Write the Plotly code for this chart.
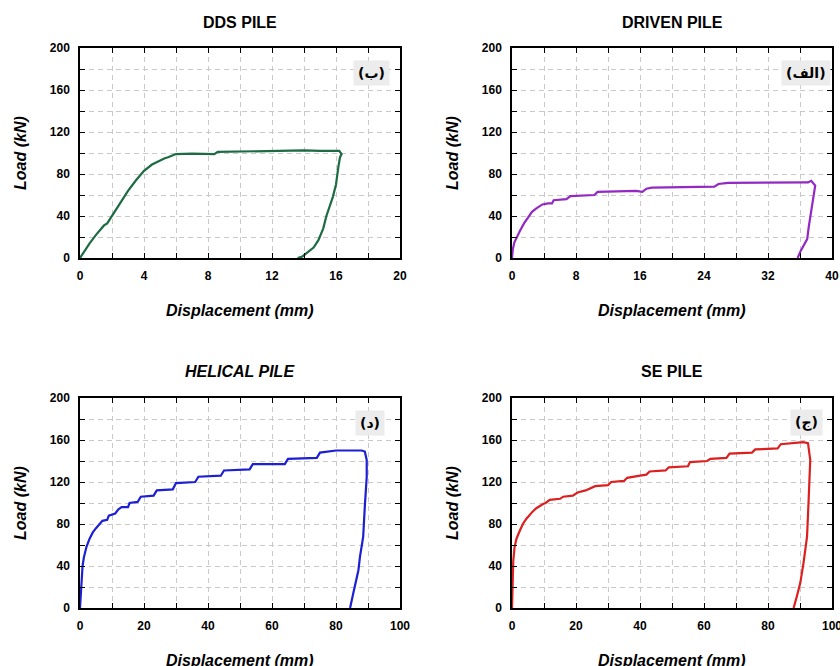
import plotly.graph_objects as go

# ---------------- data ----------------
dds_disp = [0, 0.3, 0.6, 1.0, 1.5, 1.7, 2.0, 2.5, 3.0, 3.5, 4.0, 4.5, 5.0, 5.3, 5.5, 5.7, 6.0, 7.0, 8.0, 8.4, 8.6,
            10, 12, 14, 15, 16, 16.2, 16.35, 16.25, 16.15, 16.0, 15.8, 15.6, 15.4, 15.2, 14.9, 14.6, 14.2, 13.9, 13.6]
dds_load = [0, 7, 14, 22, 31, 33, 40, 52, 64, 74, 83, 89, 93, 95, 96, 97, 99, 99.5, 99, 99, 101,
            101.5, 102, 102.5, 102, 102, 102, 99, 96, 87, 70, 58, 49, 40, 28, 17, 10, 5, 1.5, 0]

drv_disp = [0, 0.1, 0.3, 0.6, 1.0, 1.5, 2.0, 2.5, 3.0, 3.5, 3.8, 4.5, 5.0, 5.2, 6.8, 7.3, 10.3, 10.7, 15.5, 16.3,
            16.8, 17.5, 25.3, 25.8, 27, 37, 37.4, 37.9, 37.7, 37.4, 37.1, 36.9, 36.5, 36.1, 35.7]
drv_load = [0, 8, 15, 20, 26, 33, 39, 44, 47, 49, 51, 52, 52, 55, 56, 59, 60, 63, 64, 63,
            66, 67, 68, 70.5, 71.5, 72, 73.5, 69, 60, 45, 30, 18, 13, 7, 0]

hel_disp = [0, 0.3, 0.5, 0.8, 1.2, 2, 3, 4, 5, 6, 7, 8.5, 9, 11, 12, 13, 15, 15.5, 18, 19, 23, 24, 29, 30, 36, 37,
            44, 45, 53, 54, 64, 65, 74, 75, 80, 88, 89, 89.6, 89.6, 89.0, 88.5, 87.5, 87.0, 85.4, 84.4]
hel_load = [0, 15, 30, 40, 48, 58, 66, 72, 76, 79, 83, 84, 88, 90, 94, 96, 96, 100, 101, 106, 107, 112, 113, 119, 120, 125,
            126, 131, 132, 137, 137, 142, 143, 148, 150, 150, 149, 141, 125, 96.5, 68, 49, 36, 14, 0]

se_disp = [0, 0.2, 0.4, 0.8, 1.4, 2.5, 3.4, 4.5, 5.5, 6.5, 7.6, 8.5, 9.7, 10.5, 11.8, 15, 16, 19, 20.5, 23, 24.5, 26,
           30, 31, 35, 36, 40, 42, 43, 48, 49, 55, 55.6, 61, 62, 67, 68, 75, 76, 83, 84, 88, 91, 92.5, 93.2,
           92.7, 92.2, 91.1, 90.1, 89.0, 88.0]
se_load = [0, 20, 45, 58, 66, 74, 80, 85, 89, 92, 95, 97, 99, 100, 103, 104, 106, 107, 110, 112, 114, 116,
           117, 120, 121, 124, 126, 127, 130, 131, 134, 135, 139, 140, 142, 143, 147, 148, 151, 152, 156, 157, 158, 157, 141,
           103, 68, 43, 24, 11, 0]

titles = ["DDS PILE", "DRIVEN PILE", "<i>HELICAL PILE</i>", "SE PILE"]
panel_labels = ["(ب)", "(الف)", "(د)", "(ج)"]
x_ticks = [[0, 4, 8, 12, 16, 20], [0, 8, 16, 24, 32, 40], [0, 20, 40, 60, 80, 100], [0, 20, 40, 60, 80, 100]]
x_minor = [2, 4, 10, 10]
y_ticks = [0, 40, 80, 120, 160, 200]
colors = ["#1d6b42", "#9428c2", "#1c1fd4", "#dc1f1f"]
series = [(dds_disp, dds_load), (drv_disp, drv_load), (hel_disp, hel_load), (se_disp, se_load)]

# ---------------- layout ----------------
W, H = 840, 666
# plot areas in pixels: (left, right, top, bottom)
areas = [(80, 400, 48, 258), (512, 832, 48, 258), (80, 400, 398, 608), (512, 832, 398, 608)]
label_cx = [371, 806, 370, 806]

FONT = "Liberation Sans, Arial, sans-serif"
fig = go.Figure()
annotations = []
grid_dash = "5px,4px"
grid_col = "#c9c9c9"

for i, ((xs, ys), (l, r, t, b)) in enumerate(zip(series, areas)):
    n = "" if i == 0 else str(i + 1)
    fig.add_trace(go.Scatter(x=xs, y=ys, mode="lines", line=dict(color=colors[i], width=2.2),
                             xaxis="x" + n, yaxis="y" + n, showlegend=False))
    xd = [l / W, r / W]
    yd = [1 - b / H, 1 - t / H]
    common = dict(showline=True, linecolor="black", linewidth=1.5, mirror="ticks",
                  ticks="inside", ticklen=5, tickwidth=1.2, tickcolor="black", automargin=False,
                  ticklabeloverflow="allow", tickmode="array",
                  showgrid=True, gridcolor=grid_col, griddash=grid_dash, gridwidth=1,
                  zeroline=False, tickfont=dict(family=FONT, size=12, color="black", weight="bold"))
    fig.layout["xaxis" + n] = dict(domain=xd, anchor="y" + n, range=[x_ticks[i][0], x_ticks[i][-1]],
                                   tickvals=x_ticks[i], ticktext=[str(v) for v in x_ticks[i]],
                                   ticklabelstandoff=6,
                                   minor=dict(tickmode="linear", tick0=0, dtick=x_minor[i], ticks="inside",
                                              ticklen=5, tickcolor="black",
                                              showgrid=True, gridcolor=grid_col, griddash=grid_dash),
                                   **common)
    fig.layout["yaxis" + n] = dict(domain=yd, anchor="x" + n, range=[y_ticks[0], y_ticks[-1]],
                                   tickvals=y_ticks, ticktext=[str(v) for v in y_ticks],
                                   ticklabelstandoff=6,
                                   minor=dict(tickmode="linear", tick0=0, dtick=20, ticks="inside",
                                              ticklen=5, tickcolor="black",
                                              showgrid=True, gridcolor=grid_col, griddash=grid_dash),
                                   **common)
    cx = (l + r) / 2
    # subplot title
    annotations.append(dict(text="<b>" + titles[i] + "</b>", x=cx / W, y=1 - (t - 26) / H,
                            xref="paper", yref="paper", showarrow=False, xanchor="center", yanchor="middle",
                            font=dict(family=FONT, size=16, color="black")))
    # x axis title
    annotations.append(dict(text="<b><i>Displacement (mm)</i></b>", x=cx / W, y=1 - (b + 52) / H,
                            xref="paper", yref="paper", showarrow=False, xanchor="center", yanchor="middle",
                            font=dict(family=FONT, size=16, color="black")))
    # y axis title
    annotations.append(dict(text="<b><i>Load (kN)</i></b>", x=(l - 60) / W, y=1 - ((t + b) / 2) / H,
                            xref="paper", yref="paper", showarrow=False, xanchor="center", yanchor="middle",
                            textangle=-90, font=dict(family=FONT, size=16, color="black")))
    # panel label
    annotations.append(dict(text="<b>" + panel_labels[i] + "</b>", x=label_cx[i] / W, y=1 - (t + 25) / H,
                            xref="paper", yref="paper", showarrow=False, xanchor="center", yanchor="middle",
                            bgcolor="#ececec", borderpad=4,
                            font=dict(family="DejaVu Sans, sans-serif", size=14, color="black")))

fig.update_layout(width=W, height=H, margin=dict(l=0, r=0, t=0, b=0, autoexpand=False),
                  paper_bgcolor="white", plot_bgcolor="white", annotations=annotations)
fig.write_html("out.html", config={"displayModeBar": False},
               post_script="document.body.style.margin='0px';")
